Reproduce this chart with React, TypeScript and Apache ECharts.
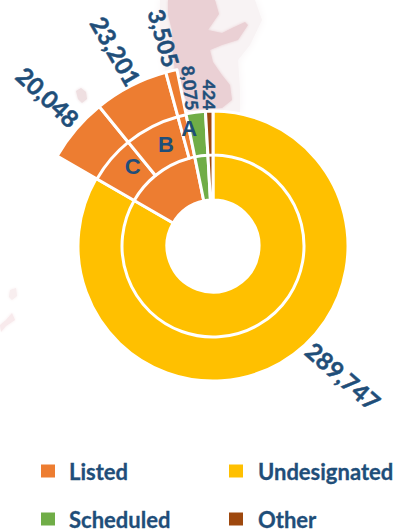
import React, { useEffect, useRef } from "react";
import * as echarts from "echarts";

const WIDTH = 408;
const HEIGHT = 532;

const groupNames = ["Undesignated", "Listed", "Scheduled", "Other"];
const groupValues = [289747, 46754, 8075, 424];
const detailNames = ["Undesignated", "C", "B", "A", "Scheduled", "Other"];
const detailValues = [289747, 20048, 23201, 3505, 8075, 424];
const legendLeft = ["Listed", "Scheduled"];
const legendRight = ["Undesignated", "Other"];

const ORANGE = "#ED7D31";
const YELLOW = "#FFC000";
const GREEN = "#70AD47";
const BROWN = "#9E480E";
const INK = "#1F4E79";
const detailColors = [YELLOW, ORANGE, ORANGE, ORANGE, GREEN, BROWN];
const groupColors = [YELLOW, ORANGE, GREEN, BROWN];

const CENTER = ["213px", "246px"];
const MIN_ANGLE = 3.2;
const outerVisible = [false, true, true, true, false, false];

// placement of the value labels: x, y, rotation, font size
const labelPlacement = [
  { x: 343, y: 376, rotate: -41, size: 24 },
  { x: 48, y: 97, rotate: -43, size: 24 },
  { x: 116, y: 51, rotate: -60, size: 24 },
  { x: 164, y: 38, rotate: -74, size: 23 },
  { x: 190, y: 88, rotate: -84, size: 17.5 },
  { x: 209, y: 95, rotate: -90, size: 17.5 },
];
const letterOffsets: Record<string, number[]> = { A: [3, -5], B: [6, 2], C: [8, -4] };

const mapHalo = [
  [160, 0], [255, 0], [262, 20], [250, 45], [238, 60], [240, 90], [240, 112], [180, 112], [165, 70], [160, 30],
];
const mapMain = [
  [168, 0], [215, 0], [219, 14], [208, 30], [222, 33], [232, 28], [245, 22], [248, 25], [238, 40],
  [222, 45], [210, 50], [213, 62], [222, 75], [230, 85], [232, 100], [222, 108], [190, 110], [175, 72],
  [172, 45], [172, 30], [168, 15],
];
const mapIslet = [[76, 91], [81, 88], [86, 92], [87, 99], [82, 103], [78, 99]];
const mapWest1 = [[10, 290], [16, 288], [17, 296], [12, 300], [9, 297]];
const mapWest2 = [[0, 325], [6, 320], [12, 313], [15, 320], [6, 326], [1, 332]];

const blob = (points: number[][], fill: string, blur = 3) => ({
  type: "polygon",
  z: -1,
  silent: true,
  shape: { points },
  style: { fill, shadowBlur: blur, shadowColor: fill },
});

const makeLegend = (data: string[], left: number, labelPad: number) => ({
  data,
  left,
  top: 459,
  height: 73,
  padding: 0,
  orient: "vertical",
  itemWidth: 16,
  itemHeight: 15,
  itemGap: 24,
  selectedMode: false,
  icon: "rect",
  textStyle: {
    fontFamily: "Lato",
    fontWeight: "bold",
    fontSize: 22,
    color: INK,
    textBorderColor: INK,
    textBorderWidth: 0.3,
    padding: [0, 0, 0, labelPad],
    lineHeight: 24,
  },
});

export default function App() {
  const ref = useRef<HTMLDivElement>(null);

  useEffect(() => {
    document.body.style.margin = "0";
    const chart = echarts.init(ref.current!, undefined, { renderer: "svg" });
    const border = { borderColor: "#ffffff", borderWidth: 3 };

    chart.setOption({
      animation: false,
      backgroundColor: "#ffffff",
      graphic: [
        blob(mapHalo, "#F8F3F4", 8),
        blob(mapMain, "#EAD0D4"),
        blob(mapIslet, "#EFDFE1"),
        blob(mapWest1, "#F8EEEF"),
        blob(mapWest2, "#F8EAEC"),
      ],
      legend: [makeLegend(legendLeft, 39, 8), makeLegend(legendRight, 227, 9)],
      series: [
        {
          type: "pie",
          center: CENTER,
          radius: [46, 92],
          startAngle: 90,
          clockwise: true,
          minAngle: MIN_ANGLE,
          avoidLabelOverlap: false,
          label: { show: false },
          labelLine: { show: false },
          silent: true,
          data: groupNames.map((name, i) => ({
            name,
            value: groupValues[i],
            itemStyle: { color: groupColors[i], ...border },
          })),
        },
        {
          type: "pie",
          center: CENTER,
          radius: [91, 135],
          startAngle: 90,
          clockwise: true,
          minAngle: MIN_ANGLE,
          avoidLabelOverlap: false,
          silent: true,
          labelLine: { show: false },
          data: detailNames.map((name, i) => {
            const letter = name.length === 1;
            return {
              name,
              value: detailValues[i],
              itemStyle: { color: detailColors[i], ...border },
              label: letter
                ? {
                    show: true,
                    position: "inside",
                    formatter: "{b}",
                    fontFamily: "Liberation Sans",
                    fontWeight: "bold",
                    fontSize: 22,
                    color: INK,
                    offset: letterOffsets[name],
                  }
                : { show: false },
            };
          }),
        },
        {
          type: "pie",
          center: CENTER,
          radius: [134, 180],
          startAngle: 90,
          clockwise: true,
          minAngle: MIN_ANGLE,
          avoidLabelOverlap: false,
          silent: true,
          label: { show: false },
          labelLine: { show: false },
          data: detailNames.map((name, i) => ({
            name: `${name} outer`,
            value: detailValues[i],
            itemStyle: outerVisible[i]
              ? { color: detailColors[i], ...border }
              : { color: "transparent", borderWidth: 0 },
          })),
        },
        {
          type: "pie",
          center: CENTER,
          radius: [180, 220],
          startAngle: 90,
          clockwise: true,
          minAngle: MIN_ANGLE,
          avoidLabelOverlap: false,
          silent: true,
          labelLine: { show: false },
          labelLayout: (params: any) => ({
            x: labelPlacement[params.dataIndex].x,
            y: labelPlacement[params.dataIndex].y,
            rotate: labelPlacement[params.dataIndex].rotate,
          }),
          data: detailNames.map((name, i) => ({
            name: `${name} value`,
            value: detailValues[i],
            itemStyle: { color: "transparent", borderWidth: 0 },
            label: {
              show: true,
              position: "inside",
              formatter: detailValues[i].toLocaleString("en-US"),
              fontFamily: "Lato",
              fontWeight: "bold",
              fontSize: labelPlacement[i].size,
              color: INK,
              textBorderColor: INK,
              textBorderWidth: 0.5,
            },
          })),
        },
      ],
    });

    return () => chart.dispose();
  }, []);

  return <div ref={ref} style={{ width: WIDTH, height: HEIGHT }} />;
}
